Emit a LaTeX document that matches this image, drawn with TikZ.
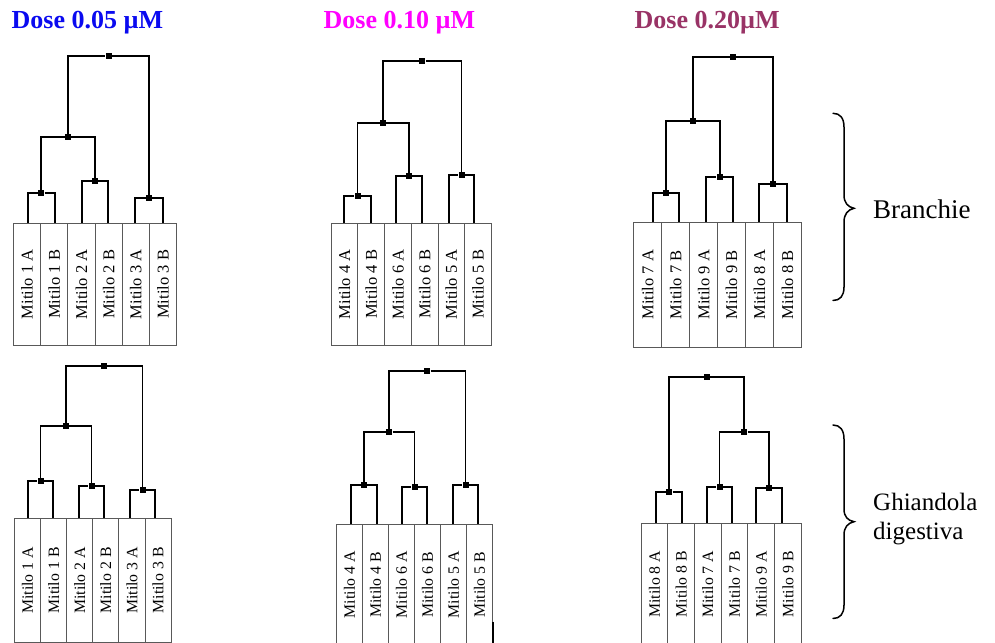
\documentclass[tikz,border=0pt]{standalone}
\usepackage{fontspec}
\setmainfont{Liberation Serif}
\usepackage{graphicx}

\definecolor{doseA}{RGB}{10,10,240}
\definecolor{doseB}{RGB}{255,0,255}
\definecolor{doseC}{RGB}{153,51,102}

\tikzset{
  cell/.style={draw=black!65, line width=0.9pt, inner sep=0pt, anchor=north west,
    font=\fontsize{16.5}{18}\selectfont},
  lowcell/.style={cell, font=\fontsize{15.8}{18}\selectfont},
  joint/.style={rectangle, fill=black, inner sep=0pt, minimum size=6pt},
  link/.style={line width=1.8pt, line join=miter},
  title/.style={anchor=base west, inner sep=0pt, font=\fontsize{26}{30}\selectfont\bfseries},
  organ/.style={anchor=base west, inner sep=0pt},
  brace/.style={line width=1.5pt, line cap=round},
}

% one row of six labelled sample boxes: prefix, left x, column width, top y, height, style, labels
\newcommand\cellrow[7]{%
  \foreach \lab [count=\k] in {#7}
    \node[#6, minimum width=#3pt, minimum height=#5pt] (#1\k) at ({#2+(\k-1)*#3},#4) {\rotatebox{90}{\lab}};
}

\begin{document}
\begin{tikzpicture}[x=1pt, y=-1pt]
\useasboundingbox (0,0) rectangle (995,642);
\clip (0,0) rectangle (995,642);
\fill[white] (0,0) rectangle (995,642);

% dose titles
\node[title, text=doseA] (t1) at (11.5,28.5) {Dose 0.05 µM};
\node[title, text=doseB] (t2) at (323.5,28.5) {Dose 0.10 µM};
\node[title, text=doseC] (t3) at (634.5,28.5) {Dose 0.20µM};

% ---------------- gills, dose 0.05
\cellrow{a}{13}{27.2}{222.7}{122.3}{cell}{Mitilo 1 A,Mitilo 1 B,Mitilo 2 A,Mitilo 2 B,Mitilo 3 A,Mitilo 3 B}
\foreach \x [count=\k] in {27.7,55,81.7,108.3,135,163} \coordinate (al\k) at (\x,222.7);
\node[joint] (a12) at (41.35,193.3) {};
\node[joint] (a34) at (95,181.3) {};
\node[joint] (a56) at (149,198.3) {};
\node[joint] (a14) at (68.2,136.7) {};
\node[joint] (a16) at (108.6,56) {};
\draw[link] (al1) |- (a12) -| (al2);
\draw[link] (al3) |- (a34) -| (al4);
\draw[link] (al5) |- (a56) -| (al6);
\draw[link] (a12) |- (a14) -| (a34);
\draw[link] (a14) |- (a16) -| (a56);

% ---------------- gills, dose 0.10
\cellrow{b}{330.7}{26.7}{222.7}{122.3}{cell}{Mitilo 4 A,Mitilo 4 B,Mitilo 6 A,Mitilo 6 B,Mitilo 5 A,Mitilo 5 B}
\foreach \x [count=\k] in {344.3,370.7,396,422,448.7,474.3} \coordinate (bl\k) at (\x,222.7);
\node[joint] (b12) at (357.5,195.7) {};
\node[joint] (b34) at (409,176.3) {};
\node[joint] (b56) at (461.5,174.7) {};
\node[joint] (b14) at (383.25,122.7) {};
\node[joint] (b16) at (422.4,61.3) {};
\draw[link] (bl1) |- (b12) -| (bl2);
\draw[link] (bl3) |- (b34) -| (bl4);
\draw[link] (bl5) |- (b56) -| (bl6);
\draw[link] (b12) |- (b14) -| (b34);
\draw[link] (b14) |- (b16) -| (b56);

% ---------------- gills, dose 0.20
\cellrow{c}{633.3}{27.95}{222}{124.7}{cell}{Mitilo 7 A,Mitilo 7 B,Mitilo 9 A,Mitilo 9 B,Mitilo 8 A,Mitilo 8 B}
\foreach \x [count=\k] in {653,679.3,706.3,733,759.3,786.7} \coordinate (cl\k) at (\x,222);
\node[joint] (c12) at (666.15,192.7) {};
\node[joint] (c34) at (719.65,176.7) {};
\node[joint] (c56) at (773,184.3) {};
\node[joint] (c14) at (692.9,120.7) {};
\node[joint] (c16) at (732.95,57.3) {};
\draw[link] (cl1) |- (c12) -| (cl2);
\draw[link] (cl3) |- (c34) -| (cl4);
\draw[link] (cl5) |- (c56) -| (cl6);
\draw[link] (c12) |- (c14) -| (c34);
\draw[link] (c14) |- (c16) -| (c56);

% ---------------- digestive gland, dose 0.05
\cellrow{d}{14}{26.1}{518.3}{123.2}{lowcell}{Mitilo 1 A,Mitilo 1 B,Mitilo 2 A,Mitilo 2 B,Mitilo 3 A,Mitilo 3 B}
\foreach \x [count=\k] in {27.7,53.3,78.7,104.3,130,155} \coordinate (dl\k) at (\x,518.3);
\node[joint] (d12) at (40.5,480.7) {};
\node[joint] (d34) at (91.5,486.3) {};
\node[joint] (d56) at (142.5,490.3) {};
\node[joint] (d14) at (66,426) {};
\node[joint] (d16) at (104.25,365.7) {};
\draw[link] (dl1) |- (d12) -| (dl2);
\draw[link] (dl3) |- (d34) -| (dl4);
\draw[link] (dl5) |- (d56) -| (dl6);
\draw[link] (d12) |- (d14) -| (d34);
\draw[link] (d14) |- (d16) -| (d56);

% ---------------- digestive gland, dose 0.10
\cellrow{e}{336}{26}{523.7}{121.3}{lowcell}{Mitilo 4 A,Mitilo 4 B,Mitilo 6 A,Mitilo 6 B,Mitilo 5 A,Mitilo 5 B}
\foreach \x [count=\k] in {351,377.3,402,427,453,478} \coordinate (el\k) at (\x,523.7);
\node[joint] (e12) at (364.15,485.3) {};
\node[joint] (e34) at (414.5,487) {};
\node[joint] (e56) at (465.5,485.3) {};
\node[joint] (e14) at (389.3,431.7) {};
\node[joint] (e16) at (427.4,371.3) {};
\draw[link] (el1) |- (e12) -| (el2);
\draw[link] (el3) |- (e34) -| (el4);
\draw[link] (el5) |- (e56) -| (el6);
\draw[link] (e12) |- (e14) -| (e34);
\draw[link] (e14) |- (e16) -| (e56);
\draw[line width=1.6pt] ([yshift=-98pt]e6.north east) -- (e6.south east);

% ---------------- digestive gland, dose 0.20
\cellrow{f}{640.7}{26.67}{522.7}{122}{lowcell}{Mitilo 8 A,Mitilo 8 B,Mitilo 7 A,Mitilo 7 B,Mitilo 9 A,Mitilo 9 B}
\foreach \x [count=\k] in {656.3,682.3,707,732,756,782.3} \coordinate (fl\k) at (\x,522.7);
\node[joint] (f12) at (669.3,492.3) {};
\node[joint] (f34) at (719.5,486.7) {};
\node[joint] (f56) at (769.15,488) {};
\node[joint] (f36) at (744.3,432.3) {};
\node[joint] (f16) at (706.8,376.7) {};
\draw[link] (fl1) |- (f12) -| (fl2);
\draw[link] (fl3) |- (f34) -| (fl4);
\draw[link] (fl5) |- (f56) -| (fl6);
\draw[link] (f34) |- (f36) -| (f56);
\draw[link] (f12) |- (f16) -| (f36);

% ---------------- braces and tissue labels
\draw[brace] (833,113.3) .. controls (840,113.3) and (844,118) .. (844,127)
  -- (844,195) .. controls (844,203) and (848,207) .. (854,208.3)
  .. controls (848,209.6) and (844,214) .. (844,222)
  -- (844,287) .. controls (844,296) and (840,300.5) .. (833,300.5);
\node[organ, font=\fontsize{27}{30}\selectfont] (branchie) at (873,218.3) {Branchie};

\draw[brace] (833,425) .. controls (840,425) and (844,430) .. (844,439)
  -- (844,509) .. controls (844,517) and (848,520.5) .. (854,521.7)
  .. controls (848,523) and (844,527) .. (844,535)
  -- (844,605) .. controls (844,614) and (840,618.5) .. (833,618.5);
\node[organ, font=\fontsize{25}{29}\selectfont] (ghiandola) at (873,510) {Ghiandola};
\node[organ, font=\fontsize{25}{29}\selectfont] (digestiva) at (873,539.3) {digestiva};
\end{tikzpicture}
\end{document}
